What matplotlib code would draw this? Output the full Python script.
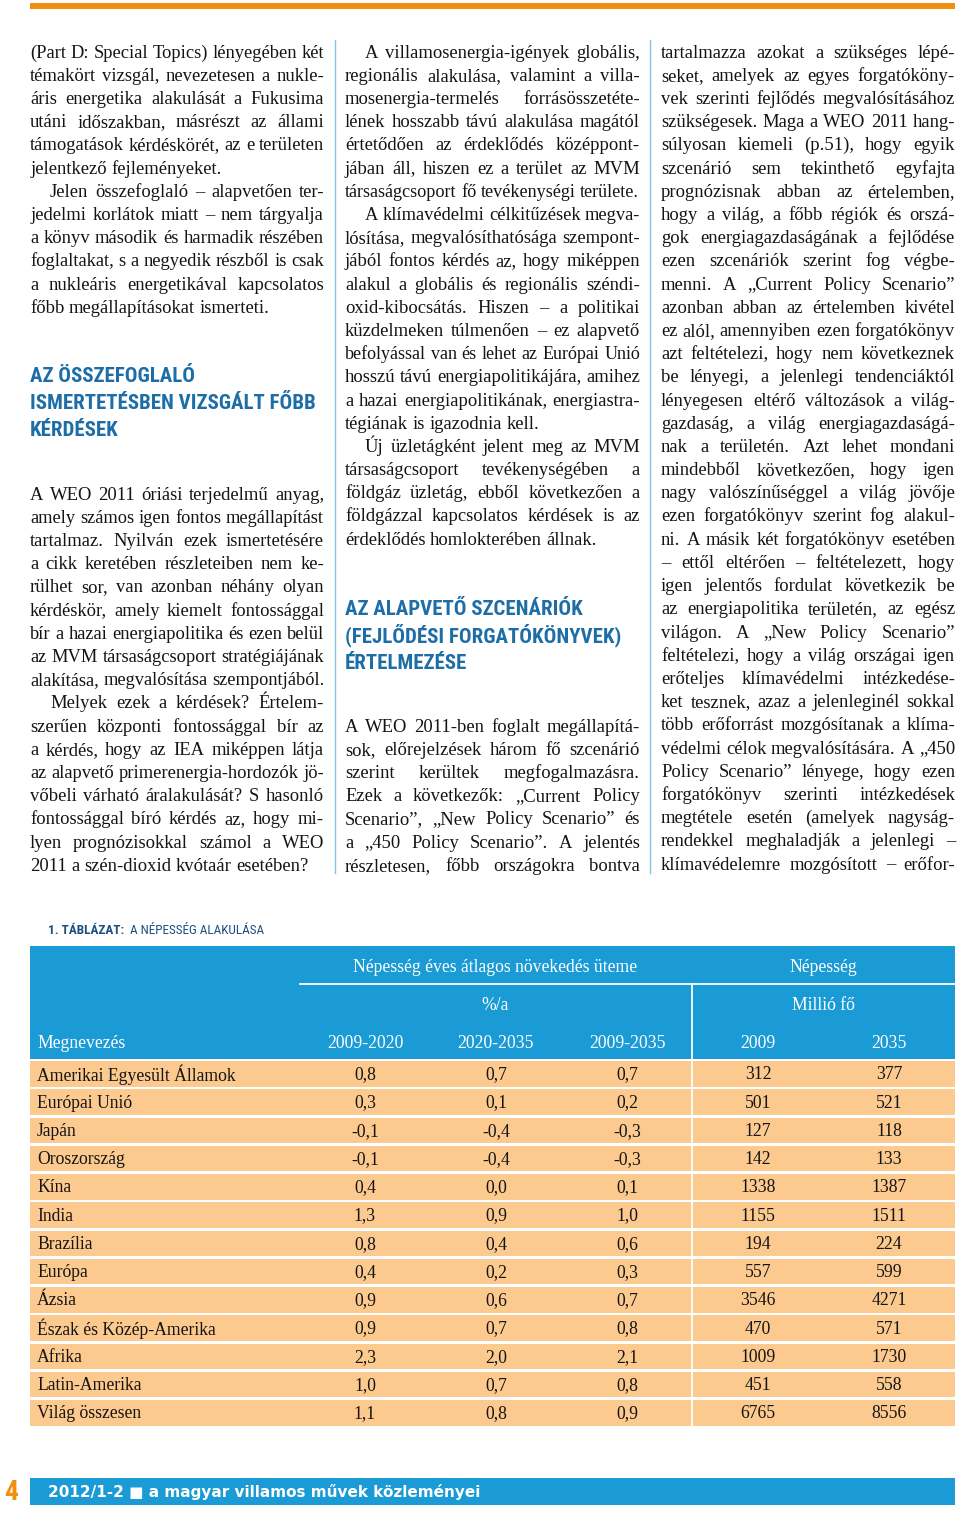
import matplotlib
matplotlib.use('Agg')
import matplotlib.pyplot as plt
import numpy as np
from matplotlib import font_manager
from matplotlib.font_manager import FontProperties
from matplotlib.patches import Rectangle

# ---- page text (line breaks as in the printed page) ----
col1_par1 = ["(Part D: Special Topics) lényegében két",
             "témakört vizsgál, nevezetesen a nukle-",
             "áris energetika alakulását a Fukusima",
             "utáni időszakban, másrészt az állami",
             "támogatások kérdéskörét, az e területen",
             "jelentkező fejleményeket."]
col1_par2 = ["Jelen összefoglaló – alapvetően ter-",
             "jedelmi korlátok miatt – nem tárgyalja",
             "a könyv második és harmadik részében",
             "foglaltakat, s a negyedik részből is csak",
             "a nukleáris energetikával kapcsolatos",
             "főbb megállapításokat ismerteti."]
col1_head = ["AZ ÖSSZEFOGLALÓ", "ISMERTETÉSBEN VIZSGÁLT FŐBB", "KÉRDÉSEK"]
col1_par3 = ["A WEO 2011 óriási terjedelmű anyag,",
             "amely számos igen fontos megállapítást",
             "tartalmaz. Nyilván ezek ismertetésére",
             "a cikk keretében részleteiben nem ke-",
             "rülhet sor, van azonban néhány olyan",
             "kérdéskör, amely kiemelt fontossággal",
             "bír a hazai energiapolitika és ezen belül",
             "az MVM társaságcsoport stratégiájának",
             "alakítása, megvalósítása szempontjából."]
col1_par4 = ["Melyek ezek a kérdések? Értelem-",
             "szerűen központi fontossággal bír az",
             "a kérdés, hogy az IEA miképpen látja",
             "az alapvető primerenergia-hordozók jö-",
             "vőbeli várható áralakulását? S hasonló",
             "fontossággal bíró kérdés az, hogy mi-",
             "lyen prognózisokkal számol a WEO",
             "2011 a szén-dioxid kvótaár esetében?"]

col2_par1 = ["A villamosenergia-igények globális,",
             "regionális alakulása, valamint a villa-",
             "mosenergia-termelés forrásösszetéte-",
             "lének hosszabb távú alakulása magától",
             "értetődően az érdeklődés középpont-",
             "jában áll, hiszen ez a terület az MVM",
             "társaságcsoport fő tevékenységi területe."]
col2_par2 = ["A klímavédelmi célkitűzések megva-",
             "lósítása, megvalósíthatósága szempont-",
             "jából fontos kérdés az, hogy miképpen",
             "alakul a globális és regionális széndi-",
             "oxid-kibocsátás. Hiszen – a politikai",
             "küzdelmeken túlmenően – ez alapvető",
             "befolyással van és lehet az Európai Unió",
             "hosszú távú energiapolitikájára, amihez",
             "a hazai energiapolitikának, energiastra-",
             "tégiának is igazodnia kell."]
col2_par3 = ["Új üzletágként jelent meg az MVM",
             "társaságcsoport tevékenységében a",
             "földgáz üzletág, ebből következően a",
             "földgázzal kapcsolatos kérdések is az",
             "érdeklődés homlokterében állnak."]
col2_head = ["AZ ALAPVETŐ SZCENÁRIÓK", "(FEJLŐDÉSI FORGATÓKÖNYVEK)", "ÉRTELMEZÉSE"]
col2_par4 = ["A WEO 2011-ben foglalt megállapítá-",
             "sok, előrejelzések három fő szcenárió",
             "szerint kerültek megfogalmazásra.",
             "Ezek a következők: „Current Policy",
             "Scenario”, „New Policy Scenario” és",
             "a „450 Policy Scenario”. A jelentés",
             "részletesen, főbb országokra bontva"]

col3_par1 = ["tartalmazza azokat a szükséges lépé-",
             "seket, amelyek az egyes forgatóköny-",
             "vek szerinti fejlődés megvalósításához",
             "szükségesek. Maga a WEO 2011 hang-",
             "súlyosan kiemeli (p.51), hogy egyik",
             "szcenárió sem tekinthető egyfajta",
             "prognózisnak abban az értelemben,",
             "hogy a világ, a főbb régiók és orszá-",
             "gok energiagazdaságának a fejlődése",
             "ezen szcenáriók szerint fog végbe-",
             "menni. A „Current Policy Scenario”",
             "azonban abban az értelemben kivétel",
             "ez alól, amennyiben ezen forgatókönyv",
             "azt feltételezi, hogy nem következnek",
             "be lényegi, a jelenlegi tendenciáktól",
             "lényegesen eltérő változások a világ-",
             "gazdaság, a világ energiagazdaságá-",
             "nak a területén. Azt lehet mondani",
             "mindebből következően, hogy igen",
             "nagy valószínűséggel a világ jövője",
             "ezen forgatókönyv szerint fog alakul-",
             "ni. A másik két forgatókönyv esetében",
             "– ettől eltérően – feltételezett, hogy",
             "igen jelentős fordulat következik be",
             "az energiapolitika területén, az egész",
             "világon. A „New Policy Scenario”",
             "feltételezi, hogy a világ országai igen",
             "erőteljes klímavédelmi intézkedése-",
             "ket tesznek, azaz a jelenleginél sokkal",
             "több erőforrást mozgósítanak a klíma-",
             "védelmi célok megvalósítására. A „450",
             "Policy Scenario” lényege, hogy ezen",
             "forgatókönyv szerinti intézkedések",
             "megtétele esetén (amelyek nagyság-",
             "rendekkel meghaladják a jelenlegi –",
             "klímavédelemre mozgósított – erőfor-"]

# ---- table data ----
table_title_bold = "1. TÁBLÁZAT:"
table_title = "A NÉPESSÉG ALAKULÁSA"
col_headers = ["2009-2020", "2020-2035", "2009-2035", "2009", "2035"]
regions = ["Amerikai Egyesült Államok", "Európai Unió", "Japán", "Oroszország",
           "Kína", "India", "Brazília", "Európa", "Ázsia", "Észak és Közép-Amerika",
           "Afrika", "Latin-Amerika", "Világ összesen"]
growth_2009_2020 = [0.8, 0.3, -0.1, -0.1, 0.4, 1.3, 0.8, 0.4, 0.9, 0.9, 2.3, 1.0, 1.1]
growth_2020_2035 = [0.7, 0.1, -0.4, -0.4, 0.0, 0.9, 0.4, 0.2, 0.6, 0.7, 2.0, 0.7, 0.8]
growth_2009_2035 = [0.7, 0.2, -0.3, -0.3, 0.1, 1.0, 0.6, 0.3, 0.7, 0.8, 2.1, 0.8, 0.9]
pop_2009 = [312, 501, 127, 142, 1338, 1155, 194, 557, 3546, 470, 1009, 451, 6765]
pop_2035 = [377, 521, 118, 133, 1387, 1511, 224, 599, 4271, 571, 1730, 558, 8556]

footer_text = "2012/1-2 ■ a magyar villamos művek közleményei"
page_no = "4"

ORANGE = '#f0900e'
BLUE = '#1a9bd6'
HEAD_BLUE = '#1d6ea7'
DARK_BLUE = '#1d4f80'
PEACH = '#fcc98e'
INK = '#141414'

# pick a condensed sans for headings if one is installed
names = sorted({f.name for f in font_manager.fontManager.ttflist})
narrow_name = None
for cand in ['Liberation Sans Narrow', 'Roboto Condensed', 'Open Sans Condensed',
             'DejaVu Sans Condensed', 'Noto Sans Condensed']:
    if cand in names:
        narrow_name = cand
        break
if narrow_name is None:
    others = [n for n in names if 'Condensed' in n or 'Narrow' in n]
    narrow_name = others[0] if others else 'Roboto'
narrow = [narrow_name, 'DejaVu Sans']

W, H = 960, 1513
fig = plt.figure(figsize=(9.6, 15.13), dpi=100)
ax = fig.add_axes([0, 0, 1, 1])
ax.set_xlim(0, W)
ax.set_ylim(H, 0)
ax.axis('off')
renderer = fig.canvas.get_renderer()

serif = ['Liberation Serif', 'DejaVu Serif']
LH = 23.2


def width(s, prop):
    w, h, d = renderer.get_text_width_height_descent(s, prop, ismath=False)
    return w


# body size: fit the justified lines to the column width
blocks = [(294, col1_par1, False, False), (294, col1_par2, True, False),
          (294, col1_par3, False, False), (294, col1_par4, True, False),
          (295, col2_par1, True, False), (295, col2_par2, True, False),
          (295, col2_par3, True, False), (295, col2_par4, False, True),
          (294, col3_par1, False, True)]
p10 = FontProperties(family=serif, size=10)
ratios = []
for colw, lines, ind, lj in blocks:
    for i, line in enumerate(lines):
        if i == len(lines) - 1 and not lj:
            continue
        avail = colw - (20 if (i == 0 and ind) else 0)
        ratios.append(avail / width(line, p10))
BODY_SIZE = 10 * float(np.quantile(ratios, 0.12))


def paragraph(x0, y, colw, lines, indent=True, last_just=False):
    for i, line in enumerate(lines):
        xs = x0 + (20 if (i == 0 and indent) else 0)
        avail = x0 + colw - xs
        prop = FontProperties(family=serif, size=BODY_SIZE)
        nat = width(line, prop)
        if nat > avail:
            prop = FontProperties(family=serif, size=BODY_SIZE * avail / nat * 0.995)
        words = line.split(' ')
        ws = [width(w, prop) for w in words]
        sp = width('a b', prop) - width('ab', prop)
        last = (i == len(lines) - 1) and not last_just
        if last or len(words) == 1:
            gap = sp
        else:
            gap = (avail - sum(ws)) / (len(words) - 1)
        x = xs
        for w, wd in zip(words, ws):
            ax.text(x, y + 5.5, w, fontproperties=prop, ha='left', va='baseline', color=INK)
            x += wd + gap
        y += LH
    return y


# heading size: widest heading line ~285 px
hp = FontProperties(family=narrow, weight='bold', size=10)
HEAD_SIZE = 10 * 285 / width("ISMERTETÉSBEN VIZSGÁLT FŐBB", hp)
HEAD_SIZE = min(HEAD_SIZE, 15)


def heading(x0, y, lines):
    for line in lines:
        ax.text(x0, y + 7, line, family=narrow, weight='bold', fontsize=HEAD_SIZE,
                color=HEAD_BLUE, ha='left', va='baseline')
        y += 27


# top orange bar
ax.add_patch(Rectangle((30, 3), 925, 6, color=ORANGE, lw=0))

# column dividers
for xd in (335, 650):
    ax.plot([xd, xd], [40, 873], color='#86c5df', lw=1)

# column 1
y = paragraph(30, 52, 294, col1_par1, indent=False)
y = paragraph(30, y, 294, col1_par2)
heading(30, 375, col1_head)
y = paragraph(30, 494, 294, col1_par3, indent=False)
paragraph(30, y, 294, col1_par4)

# column 2
y = paragraph(345, 52, 295, col2_par1)
y = paragraph(345, y, 295, col2_par2)
paragraph(345, y, 295, col2_par3)
heading(345, 608, col2_head)
paragraph(345, 726, 295, col2_par4, indent=False, last_just=True)

# column 3
paragraph(661, 52, 294, col3_par1, indent=False, last_just=True)

# table title
ttp = FontProperties(family=narrow, weight='bold', size=9.5)
ax.text(48, 930, table_title_bold, fontproperties=ttp, color=DARK_BLUE, ha='left', va='center')
ax.text(48 + width(table_title_bold, ttp) + 6, 930, table_title,
        fontproperties=FontProperties(family=narrow, size=9.5),
        color=DARK_BLUE, ha='left', va='center')

# table header
ax.add_patch(Rectangle((30, 946), 925, 113, color=BLUE, lw=0))
ax.plot([300, 955], [984, 984], color='white', lw=1.3)
ax.plot([692, 692], [984, 1429], color='white', lw=1.3)
tf = FontProperties(family=serif, size=12.7)
ax.text(495, 967, "Népesség éves átlagos növekedés üteme", fontproperties=tf,
        color='white', ha='center', va='center')
ax.text(823, 967, "Népesség", fontproperties=tf, color='white', ha='center', va='center')
ax.text(495, 1005, "%/a", fontproperties=tf, color='white', ha='center', va='center')
ax.text(823, 1005, "Millió fő", fontproperties=tf, color='white', ha='center', va='center')
ax.text(37, 1043, "Megnevezés", fontproperties=tf, color='white', ha='left', va='center')
col_x = [365, 496, 627, 758, 889]
for cx, hd in zip(col_x, col_headers):
    ax.text(cx, 1043, hd, fontproperties=tf, color='white', ha='center', va='center')

# table rows
row_top = 1061
row_h = 28.25
for i, name in enumerate(regions):
    top = row_top + i * row_h
    ax.add_patch(Rectangle((30, top), 925, row_h - 2.6, color=PEACH, lw=0, zorder=0))
    yc = top + (row_h - 2.6) / 2 + 1
    vals = [f"{growth_2009_2020[i]:.1f}".replace('.', ','),
            f"{growth_2020_2035[i]:.1f}".replace('.', ','),
            f"{growth_2009_2035[i]:.1f}".replace('.', ','),
            str(pop_2009[i]), str(pop_2035[i])]
    ax.text(37, yc, name, fontproperties=tf, color=INK, ha='left', va='center')
    for cx, v in zip(col_x, vals):
        ax.text(cx, yc, v, fontproperties=tf, color=INK, ha='center', va='center')

# footer
ax.add_patch(Rectangle((30, 1478), 925, 27, color=BLUE, lw=0))
ax.text(48, 1491.5, footer_text, family=['DejaVu Sans'], weight='bold', fontsize=11,
        color='white', ha='left', va='center')
ax.text(4, 1493, page_no, family=narrow, weight='bold', fontsize=20,
        color=ORANGE, ha='left', va='center')

fig.savefig('out.png', dpi=100)
